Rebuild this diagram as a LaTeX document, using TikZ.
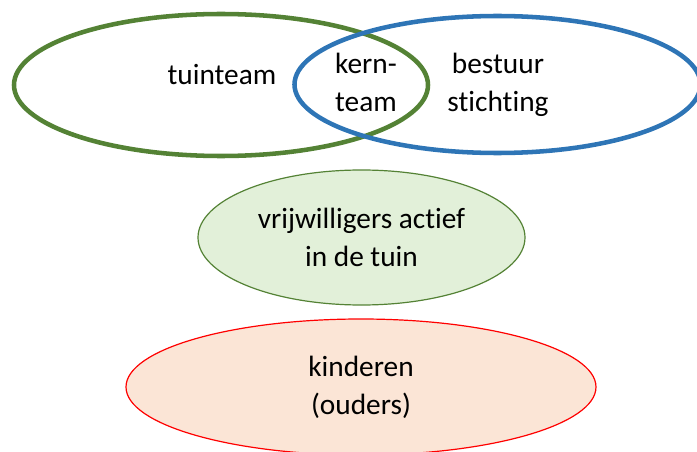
\documentclass[tikz,border=0pt]{standalone}
\usepackage{fontspec}
\setmainfont{Carlito}[Ligatures=NoCommon]
\usetikzlibrary{shapes}
\usetikzlibrary{positioning}

\definecolor{tuingreen}{HTML}{548235}
\definecolor{bestuurblue}{HTML}{2E75B6}
\definecolor{paleleaf}{HTML}{E2F0D9}
\definecolor{palepeach}{HTML}{FBE5D6}

\begin{document}
\begin{tikzpicture}[x=0.75pt,y=0.75pt,
    ring/.style={ellipse,draw,line width=3.4pt,inner sep=0pt,outer sep=0pt},
    blob/.style={ellipse,draw,line width=0.9pt,inner sep=0pt,outer sep=0pt},
    word/.style={align=center,font=\fontsize{22}{28.5}\selectfont}]
  \useasboundingbox (0,0) rectangle (697,451);
  % the two overlapping groups
  \node[ring,draw=tuingreen,minimum width=310.5pt,minimum height=106.5pt] (tuin) at (221,366) {};
  \node[ring,draw=bestuurblue,minimum width=304.5pt,minimum height=102.75pt] (bestuur) at (497.5,366.5) {};
  % volunteers and children
  \node[blob,draw=tuingreen,fill=paleleaf,minimum width=245.25pt,minimum height=101.25pt] (vrijw) at (361.5,213.5) {};
  \node[blob,draw=red,fill=palepeach,minimum width=352.5pt,minimum height=102pt] (kind) at (361,64) {};
  % texts
  \node[word,anchor=base] (tuintxt) at (222,367) {tuinteam};
  \node[word] (kerntxt) at (366,368.5) {kern-\\team};
  \node[word] (bestuurtxt) at (498,366) {bestuur\\stichting};
  \node[word] (vrijwtxt) at (vrijw.center) {vrijwilligers actief\\in de tuin};
  \node[word] (kindtxt) at (kind.center) {kinderen\\(ouders)};
\end{tikzpicture}
\end{document}
